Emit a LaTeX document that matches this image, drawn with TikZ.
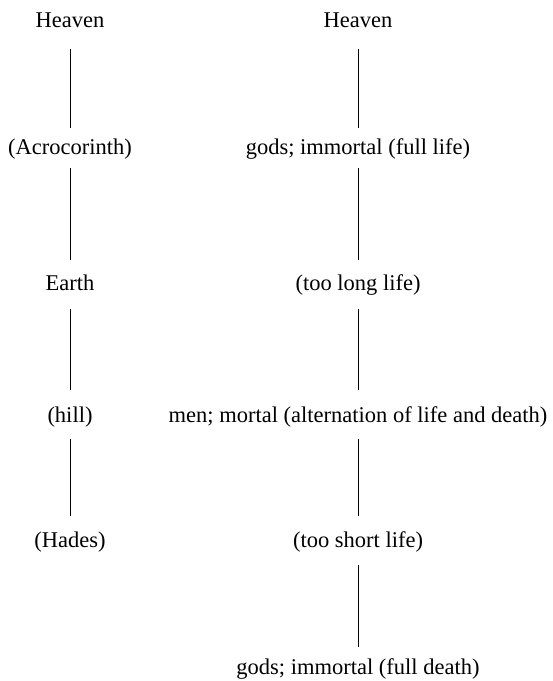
\documentclass[tikz,border=0pt]{standalone}
\usepackage{fontspec}
\setmainfont{Liberation Serif}
\begin{document}
\begin{tikzpicture}[x=1pt,y=-1pt,
  lbl/.style={inner sep=0pt,text height=15pt,text depth=0pt,font=\fontsize{22.5}{27}\selectfont},
  conn/.style={line width=0.9pt}]
\useasboundingbox (0,0) rectangle (553,681);
% left column
\node[lbl] (lh) at (70,20) {Heaven};
\node[lbl] (la) at (70,147) {(Acrocorinth)};
\node[lbl] (le) at (70,283) {Earth};
\node[lbl] (lhi) at (70,415) {(hill)};
\node[lbl] (lha) at (70,540) {(Hades)};
% right column
\node[lbl] (rh) at (358,20) {Heaven};
\node[lbl] (rg) at (358,147) {gods; immortal (full life)};
\node[lbl] (rl) at (358,283) {(too long life)};
\node[lbl] (rm) at (358,415) {men; mortal (alternation of life and death)};
\node[lbl] (rs) at (358,540) {(too short life)};
\node[lbl] (rf) at (358,667) {gods; immortal (full death)};
% connectors
\draw[conn,shorten <=29pt,shorten >=19pt] (lh.center) -- (la.center);
\draw[conn,shorten <=21pt,shorten >=23pt] (la.center) -- (le.center);
\draw[conn,shorten <=26pt,shorten >=25pt] (le.center) -- (lhi.center);
\draw[conn,shorten <=24pt,shorten >=24pt] (lhi.center) -- (lha.center);
\draw[conn,shorten <=29pt,shorten >=19pt] (rh.center) -- (rg.center);
\draw[conn,shorten <=21pt,shorten >=23pt] (rg.center) -- (rl.center);
\draw[conn,shorten <=26pt,shorten >=25pt] (rl.center) -- (rm.center);
\draw[conn,shorten <=24pt,shorten >=24pt] (rm.center) -- (rs.center);
\draw[conn,shorten <=25pt,shorten >=20pt] (rs.center) -- (rf.center);
\end{tikzpicture}
\end{document}
